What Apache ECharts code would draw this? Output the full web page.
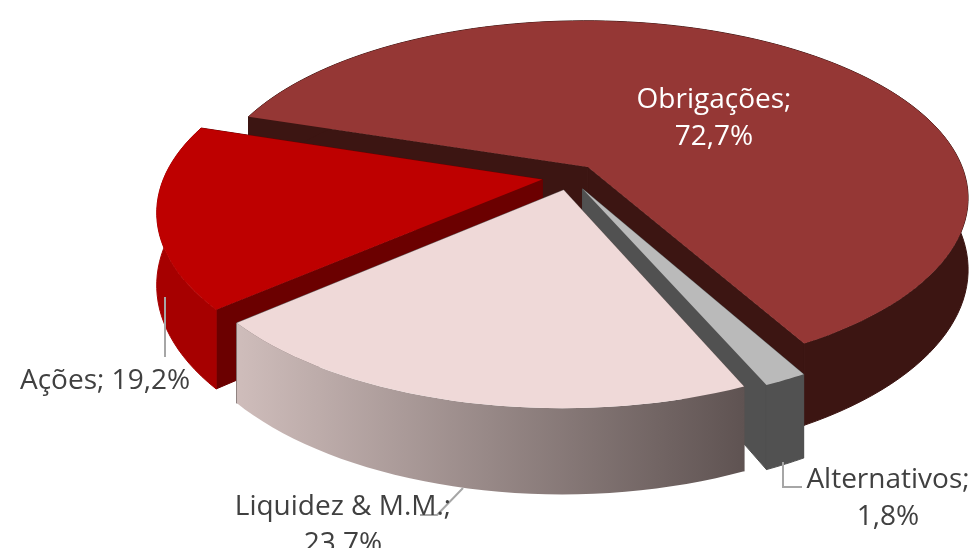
<!DOCTYPE html>
<html><head><meta charset="utf-8">
<style>html,body{margin:0;padding:0;background:#fff}#c{width:973px;height:548px}</style>
<script src="https://cdn.jsdelivr.net/npm/echarts@6/dist/echarts.min.js"></script>
</head><body><div id="c"></div>
<script>
const categories = ['Obrigações', 'Alternativos', 'Liquidez & M.M.', 'Ações'];
const values = [72.7, 1.8, 23.7, 19.2];
const valueLabels = ['72,7%', '1,8%', '23,7%', '19,2%'];

const drawOrder = [0, 1, 3, 2];
const topColors = ['#953735', '#BABABA', '#EFD9D8', '#BE0000'];
const cutColors = ['#3C1512', '#515151', '#5F5352', '#6B0000'];
const START = 288, CX = 570, CY = 177, RX = 378, RY = 175, PX = 0.17, PY = 0.175, DEPTH = 70, EXPLODE = 0.075;
const total = values.reduce((a, b) => a + b, 0);
const rad = d => d * Math.PI / 180;
function proj(u, v, z) {
  return [CX + RX * u / (1 + PX * v), CY + (-RY * v + DEPTH * z) / (1 + PY * v)];
}
function sliceAngles(i) {
  let s = START;
  for (let k = 0; k < i; k++) s += values[k] / total * 360;
  return [s, s + values[i] / total * 360];
}
const textStyle = { fontFamily: 'Open Sans', fontSize: 28, fill: '#404040', lineHeight: 37 };
const labelPlacement = [
  { x: 714, y: 119, c: '#fff', two: true },
  { x: 888, y: 499, two: true },
  { x: 343, y: 526, two: true },
  { x: 105, y: 381 }
];
const leaders = [null, [[783, 462], [783, 487], [802, 487]], [[463, 488], [437, 515], [420, 515]], [[165, 297], [165, 357]]];

function renderItem(params, api) {
  const i = drawOrder[params.dataIndex];
  const [a0, a1] = sliceAngles(i);
  const mid = rad((a0 + a1) / 2);
  const ou = Math.sin(mid) * EXPLODE, ov = Math.cos(mid) * EXPLODE;
  const rim = (a, z) => proj(Math.sin(rad(a)) + ou, Math.cos(rad(a)) + ov, z);
  const apex = z => proj(ou, ov, z);
  const arcTop = [], arcBot = [];
  const n = Math.max(8, Math.ceil((a1 - a0) / 2));
  for (let k = 0; k <= n; k++) {
    const a = a0 + (a1 - a0) * k / n;
    arcTop.push(rim(a, 0)); arcBot.push(rim(a, 1));
  }
  const wallFill = i === 2
    ? new echarts.graphic.LinearGradient(0, 0, 1, 0, [{ offset: 0, color: '#CFBDBB' }, { offset: 1, color: '#5F5352' }])
    : i === 3 ? '#A60000' : cutColors[i];
  const poly = (points, fill, seal) => ({ type: 'polygon', shape: { points }, style: { fill, stroke: seal ? fill : null, lineWidth: seal ? 1 : 0 }, silent: true });
  const children = [
    poly([apex(0), arcTop[0], arcBot[0], apex(1)], cutColors[i], true),
    poly([apex(0), arcTop[n], arcBot[n], apex(1)], cutColors[i], true),
    poly(arcTop.concat(arcBot.slice().reverse()), wallFill, i !== 2),
    poly([apex(0)].concat(arcTop), topColors[i], false)
  ];
  const lp = labelPlacement[i];
  const txt = categories[i] + ';' + (lp.two ? '\n' : ' ') + valueLabels[i];
  if (leaders[i]) children.push({ type: 'polyline', shape: { points: leaders[i] }, style: { fill: null, stroke: '#A6A6A6', lineWidth: 2 }, silent: true });
  children.push({ type: 'text', x: lp.x, y: lp.y, silent: true, style: Object.assign({}, textStyle, { text: txt, align: 'center', verticalAlign: 'middle', fill: lp.c || textStyle.fill }) });
  return { type: 'group', children };
}
const chart = echarts.init(document.getElementById('c'), null, { renderer: 'canvas' });
chart.setOption({
  animation: false,
  backgroundColor: '#fff',
  series: [{ type: 'custom', coordinateSystem: 'none', renderItem, data: drawOrder.map(i => ({ name: categories[i], value: [values[i]] })), clip: false }]
});
</script></body></html>
